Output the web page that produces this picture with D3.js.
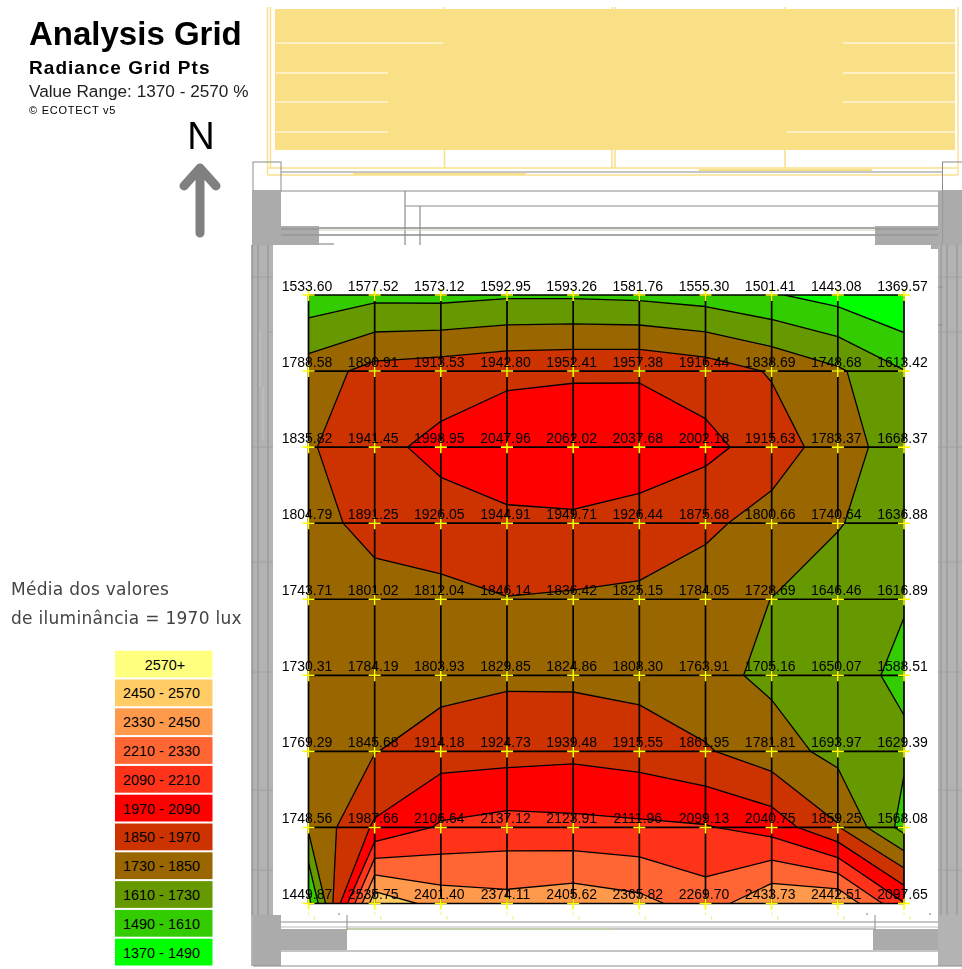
<!DOCTYPE html>
<html>
<head>
<meta charset="utf-8">
<script src="https://cdn.jsdelivr.net/npm/d3@7/dist/d3.min.js"></script>
<style>
html,body{margin:0;padding:0;background:#fff;}
svg{display:block;filter:blur(0.35px);}
text{font-family:"Liberation Sans",Arial,sans-serif;fill:#000;}
</style>
</head>
<body>
<div id="chart"></div>
<script>
const titleText = "Analysis Grid";
const subtitleText = "Radiance Grid Pts";
const rangeText = "Value Range: 1370 - 2570 %";
const creditText = "© ECOTECT v5";
const noteLines = ["Média dos valores", "de iluminância = 1970 lux"];

const row0 = [1533.60,1577.52,1573.12,1592.95,1593.26,1581.76,1555.30,1501.41,1443.08,1369.57];
const row1 = [1788.58,1890.91,1913.53,1942.80,1952.41,1957.38,1916.44,1838.69,1748.68,1613.42];
const row2 = [1835.82,1941.45,1998.95,2047.96,2062.02,2037.68,2002.18,1915.63,1783.37,1668.37];
const row3 = [1804.79,1891.25,1926.05,1944.91,1949.71,1926.44,1875.68,1800.66,1740.64,1636.88];
const row4 = [1743.71,1801.02,1812.04,1846.14,1836.42,1825.15,1784.05,1728.69,1646.46,1616.89];
const row5 = [1730.31,1784.19,1803.93,1829.85,1824.86,1808.30,1763.91,1705.16,1650.07,1588.51];
const row6 = [1769.29,1845.68,1914.18,1924.73,1939.48,1915.55,1861.95,1781.81,1693.97,1629.39];
const row7 = [1748.56,1987.66,2106.64,2137.12,2123.91,2111.96,2099.13,2040.75,1859.25,1568.08];
const row8 = [1449.87,2535.75,2401.40,2374.11,2405.62,2365.82,2269.70,2433.73,2442.51,2097.65];
const gridRows = [row0,row1,row2,row3,row4,row5,row6,row7,row8];

const levels = [1370,1490,1610,1730,1850,1970,2090,2210,2330,2450,2570];
const levelColors = ["#00FF00","#33CC00","#669900","#996600","#CC3300","#FF0000","#FF331A","#FF6633","#FF9A4D","#FFCC66","#FFFF80"];
const legendLabels = ["2570+","2450 - 2570","2330 - 2450","2210 - 2330","2090 - 2210","1970 - 2090","1850 - 1970","1730 - 1850","1610 - 1730","1490 - 1610","1370 - 1490"];

const W = 962, H = 969;
const svg = d3.select("#chart").append("svg").attr("width",W).attr("height",H).attr("viewBox",[0,0,W,H]);

/* ---------- building plan behind the grid ---------- */
const plan = svg.append("g");
const rect = (x0,y0,x1,y1,fill,stroke,sw) => plan.append("rect").attr("x",x0).attr("y",y0).attr("width",x1-x0).attr("height",y1-y0)
  .attr("fill",fill||"none").attr("stroke",stroke||"none").attr("stroke-width",sw||1);
const line = (x0,y0,x1,y1,stroke,sw) => plan.append("line").attr("x1",x0).attr("y1",y0).attr("x2",x1).attr("y2",y1)
  .attr("stroke",stroke).attr("stroke-width",sw||1);

const roof = "#F9DF85", roofEdge = "#F9E08E", wall = "#ABABAB", wallLine = "#8C8C8C";
rect(275,9,955,150,roof);
[[276,443,43],[276,388,73],[276,388,102],[276,388,132],[843,955,43],[843,955,73],[843,955,102],[787,955,132]]
  .forEach(d => line(d[0],d[2],d[1],d[2],"#FFF6D6",1.6));
[444.5,612,615,785].forEach(x => { line(x,150,x,168,roofEdge,1.6); line(x,7,x,9,roofEdge,1.6); });
line(267.5,7,267.5,175,roofEdge,1.4); line(270.5,7,270.5,168,roofEdge,1.4);
line(958,7,958,175,roofEdge,1.4);
line(268,168,958,168,roofEdge,1.4); line(268,175,958,175,roofEdge,1.4);
line(353,174,526,174,roof,2); line(699,170,872,170,roof,2);

rect(253,162,281,191,null,wallLine,1); rect(942.5,162,970,191,null,wallLine,1);
line(281,172,943,172,wallLine,1.2);
line(253,191,962,191,wallLine,1.2);
line(405,191,405,245,wallLine,1.2); line(420,206,420,245,wallLine,1.2);
line(405,206,938,206,wallLine,1.2);
line(281,228,938,228,wallLine,1.4); line(281,235,938,235,wallLine,1.4);
line(319,230,875,230,"#C9D6B0",1);
rect(252,191,281,248,wall); rect(938,191,962,248,wall);
line(942.6,191,942.6,248,"#999",1);
rect(281,226,319,245,wall); rect(875,226,938,245,wall);
line(281,229,319,229,wallLine,1); line(281,235,319,235,wallLine,1);
line(875,229,938,229,wallLine,1); line(875,235,938,235,wallLine,1);
line(319,244,334,244,wallLine,1.2);
const wallLight = "#B3B3B3";
rect(251,245,273,966,wallLight); rect(938,245,962,966,wallLight);
rect(253,915,281,966,wall);
[252.5,258,268].forEach(x => line(x,245,x,915,"#9A9A9A",1.4));
[941,947,957].forEach(x => line(x,245,x,915,"#9A9A9A",1.4));
[277,447,562,672,790,870].forEach(y => { line(251,y,273,y,"#A0A0A0",1); line(938,y,962,y,"#A0A0A0",1); });
line(260,332,260,387,"#C4C4C4",1); line(263,387,263,440,"#C4C4C4",1);
line(268,332,273,332,"#A0A0A0",1);
line(938,287,943,287,"#909090",1); line(938,325,943,325,"#909090",1); line(938,332,962,332,"#A0A0A0",1);
rect(273,245,938,915,"#FFFFFF");
rect(931,245,938,249,wall);
line(281,922,938,922,wallLine,1.2); line(281,927,938,927,"#BBB",1);
line(347,929,611,929,"#C4D0AE",2); line(611,929,875,929,"#909090",1.2);
rect(281,929,347,950,wall); rect(873,929,938,950,wall);
line(347,915,347,930,wallLine,1); line(875,915,875,930,wallLine,1);
line(281,951,938,951,wallLine,1.2);
line(253,966,962,966,wallLine,1.2);
[[339,913],[867,913],[930,913]].forEach(d => line(d[0],d[1],d[0],d[1]+2,"#777",1));

/* ---------- scales ---------- */
const nCols = row0.length, nRows = gridRows.length;
// contour coordinates: a value at padded index i sits at i + 0.5, and the grid is padded by one cell
const cx = d3.scaleLinear().domain([1.5,nCols+0.5]).range([308.5,904]);
const cy = d3.scaleLinear().domain([1.5,nRows+0.5]).range([295,903.5]);
const colX = i => cx(i+1.5), rowY = j => cy(j+1.5);
const fillScale = d3.scaleThreshold().domain(levels.slice(1)).range(levelColors);

/* ---------- contours ---------- */
const padded = [gridRows[0],...gridRows,gridRows[nRows-1]].map(r => [r[0],...r,r[nCols-1]]);
const contourGen = d3.contours().size([nCols+2,nRows+2]).smooth(true).thresholds(levels);
const polys = contourGen(padded.flat());
const path = d3.geoPath(d3.geoTransform({point(a,b){ this.stream.point(cx(a),cy(b)); }}));

svg.append("clipPath").attr("id","gridClip").append("rect")
  .attr("x",cx.range()[0]).attr("y",cy.range()[0])
  .attr("width",cx.range()[1]-cx.range()[0]).attr("height",cy.range()[1]-cy.range()[0]);

const field = svg.append("g").attr("clip-path","url(#gridClip)");
field.append("rect").attr("x",cx.range()[0]).attr("y",cy.range()[0])
  .attr("width",cx.range()[1]-cx.range()[0]).attr("height",cy.range()[1]-cy.range()[0]).attr("fill",levelColors[0]);
field.selectAll("path").data(polys).join("path")
  .attr("d",path)
  .attr("fill",d => fillScale(d.value))
  .attr("stroke","#000").attr("stroke-width",1.3).attr("stroke-linejoin","round");

/* ---------- grid lines, crosses, labels ---------- */
const gridG = svg.append("g").attr("stroke","#000").attr("stroke-width",1.7);
gridG.selectAll("line.v").data(d3.range(nCols)).join("line").attr("class","v")
  .attr("x1",colX).attr("x2",colX).attr("y1",rowY(0)).attr("y2",rowY(nRows-1));
gridG.selectAll("line.h").data(d3.range(nRows)).join("line").attr("class","h")
  .attr("y1",rowY).attr("y2",rowY).attr("x1",colX(0)).attr("x2",colX(nCols-1));

const points = gridRows.flatMap((r,j) => r.map((v,i) => ({i,j,v})));
const crossG = svg.append("g").attr("fill","none").attr("stroke","#FFFF00").attr("stroke-width",1.6);
crossG.selectAll("path").data(points).join("path")
  .attr("d",d => { const X=colX(d.i),Y=rowY(d.j); return `M${X-6},${Y}H${X+6}M${X},${Y-6}V${Y+6}`; });

const tickG = svg.append("g").attr("stroke","#F2F06A").attr("stroke-width",1.2);
tickG.selectAll("path").data(d3.range(nCols)).join("path")
  .attr("d",i => { const X=colX(i); return `M${X},${rowY(nRows-1)+9}v2M${X+6},${rowY(nRows-1)+13}v3`; });

svg.append("g").selectAll("text").data(points).join("text")
  .attr("x",d => colX(d.i)-1.5).attr("y",d => rowY(d.j)-4.5)
  .attr("text-anchor","middle").attr("font-size",14)
  .text(d => d.v.toFixed(2));

/* ---------- header ---------- */
svg.append("text").attr("x",29).attr("y",45).attr("font-size",33).attr("font-weight","bold").text(titleText);
svg.append("text").attr("x",29).attr("y",74).attr("font-size",19).attr("font-weight","bold").attr("letter-spacing",1.05).text(subtitleText);
svg.append("text").attr("x",29).attr("y",96.5).attr("font-size",17.2).style("fill","#222").text(rangeText);
svg.append("text").attr("x",29).attr("y",114).attr("font-size",11).attr("letter-spacing",0.75).text(creditText);
svg.append("text").attr("x",201).attr("y",149).attr("text-anchor","middle").attr("font-size",38).text("N");
svg.append("path").attr("d","M200,233V168M184,186L200,168L216,186")
  .attr("fill","none").attr("stroke","#808080").attr("stroke-width",9)
  .attr("stroke-linecap","round").attr("stroke-linejoin","round");

/* ---------- note ---------- */
svg.append("g").selectAll("text").data(noteLines).join("text")
  .attr("x",11).attr("y",(d,i) => 595+i*28.5)
  .style("font-family","'DejaVu Sans',sans-serif")
  .attr("font-size",17).attr("letter-spacing",0.28).style("fill","#444").text(d => d);

/* ---------- legend ---------- */
const legendY = d3.scaleBand().domain(legendLabels).range([650.7,965.5]).paddingInner(0.07).paddingOuter(0);
const legendColor = d3.scaleOrdinal().domain(legendLabels).range(levelColors.slice().reverse());
const lg = svg.append("g").selectAll("g").data(legendLabels).join("g").attr("transform",d => `translate(115,${legendY(d)})`);
lg.append("rect").attr("width",97.5).attr("height",legendY.bandwidth()).attr("fill",d => legendColor(d));
lg.append("text").attr("x",(d,i) => i===0 ? 50 : 46.5).attr("y",legendY.bandwidth()/2+5.5)
  .attr("text-anchor","middle").attr("font-size",14.4).text(d => d);
</script>
</body>
</html>
